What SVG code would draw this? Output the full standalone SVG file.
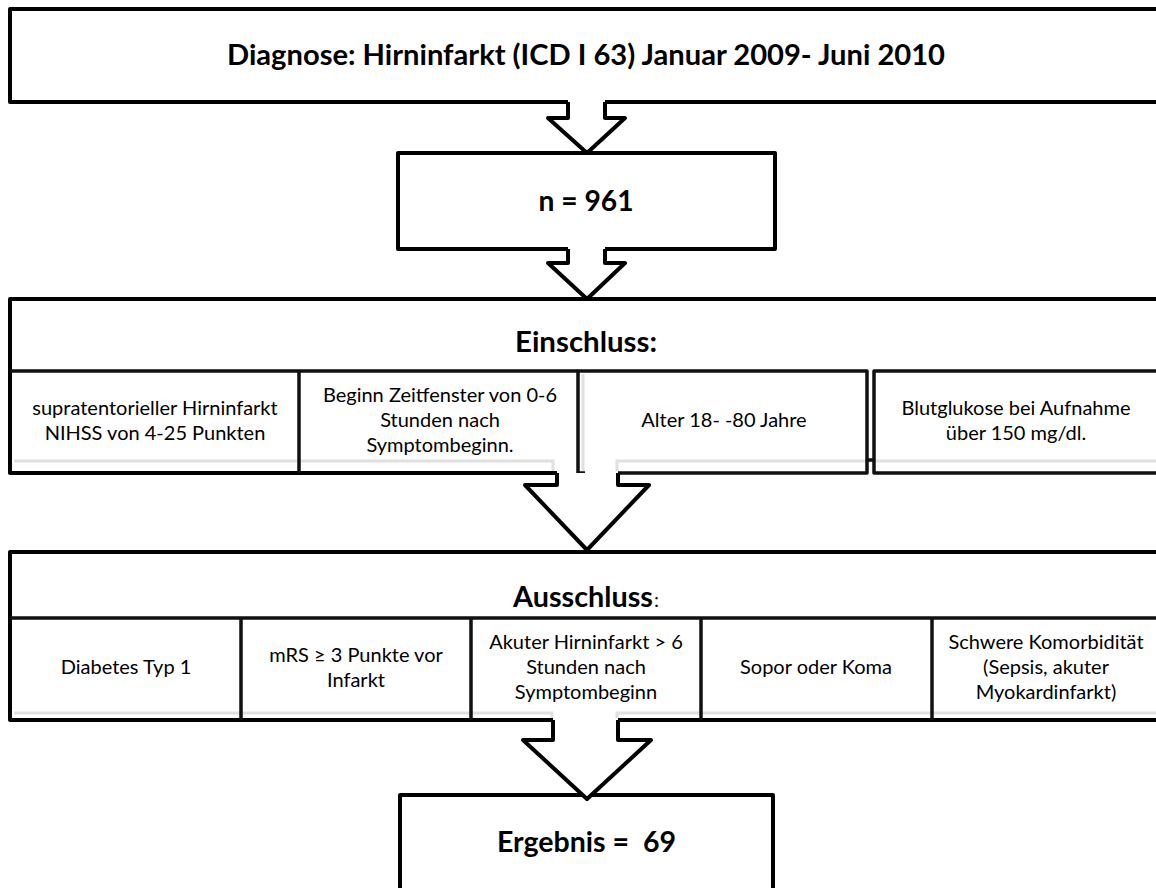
<svg xmlns="http://www.w3.org/2000/svg" width="1156" height="888" viewBox="0 0 1156 888">
<style>
.box{fill:none;stroke:#000;stroke-width:4;stroke-linejoin:round}
.cell{fill:none;stroke:#111;stroke-width:3.5;stroke-linejoin:round}
.shadow{fill:none;stroke:#e0e0e0;stroke-width:3}
.arrow{fill:#fff;stroke:#000;stroke-width:4;stroke-linejoin:round}
.h{font-family:Lato,"Liberation Sans",sans-serif;font-weight:bold;font-size:29px;fill:#000;text-anchor:middle}
.t{font-family:Lato,"Liberation Sans",sans-serif;font-size:20px;fill:#000;text-anchor:middle}
</style>
<rect width="1156" height="888" fill="#fff"/>
<g id="diagnose">
<path class="box" d="M1170,9 H10 V102 H568 M605,102 H1170"/>
<text class="h" x="586" y="65" textLength="718" lengthAdjust="spacingAndGlyphs">Diagnose: Hirninfarkt (ICD I 63) Januar 2009- Juni 2010</text>
</g>
<g id="n961">
<path class="box" d="M568,249 H398 V153 H775 V249 H605"/>
<text class="h" x="586" y="211" textLength="95" lengthAdjust="spacingAndGlyphs">n = 961</text>
</g>
<g id="einschluss">
<path class="shadow" d="M14,461 H553 V471 M617,471 V461 H1160 M583,374 V471"/>
<path class="box" d="M1170,299 H10 V473 H557"/>
<path class="cell" d="M10,371 H578 M299,371 V473"/>
<path class="cell" d="M585,371 H578 V473 H585 M578,371 H867 V473 H618"/>
<path class="cell" d="M1170,371 H874 V473 H1170 M867,460 H874"/>
<text class="h" x="586" y="352" textLength="142" lengthAdjust="spacingAndGlyphs">Einschluss:</text>
<text class="t" x="155" y="415">supratentorieller Hirninfarkt</text>
<text class="t" x="155" y="440">NIHSS von 4-25 Punkten</text>
<text class="t" x="440" y="402">Beginn Zeitfenster von 0-6</text>
<text class="t" x="440" y="427">Stunden nach</text>
<text class="t" x="440" y="452">Symptombeginn.</text>
<text class="t" x="724" y="427">Alter 18- -80 Jahre</text>
<text class="t" x="1016" y="415">Blutglukose bei Aufnahme</text>
<text class="t" x="1016" y="440">über 150 mg/dl.</text>
</g>
<g id="ausschluss">
<path class="shadow" d="M14,713 H552 V718 M617,718 V713 H1160"/>
<path class="box" d="M1170,552 H10 V720 H553 M618,720 H1170"/>
<path class="cell" d="M10,618 H1170 M241,618 V720 M471,618 V720 M701,618 V720 M932,618 V720"/>
<text class="h" x="513" y="607" style="text-anchor:start" textLength="140" lengthAdjust="spacingAndGlyphs">Ausschluss</text>
<text class="t" x="654" y="607" style="text-anchor:start">:</text>
<text class="t" x="126" y="674">Diabetes Typ 1</text>
<text class="t" x="356" y="662">mRS ≥ 3 Punkte vor</text>
<text class="t" x="356" y="687">Infarkt</text>
<text class="t" x="586" y="649">Akuter Hirninfarkt &gt; 6</text>
<text class="t" x="586" y="674">Stunden nach</text>
<text class="t" x="586" y="699">Symptombeginn</text>
<text class="t" x="816" y="674">Sopor oder Koma</text>
<text class="t" x="1046" y="649">Schwere Komorbidität</text>
<text class="t" x="1046" y="674">(Sepsis, akuter</text>
<text class="t" x="1046" y="699">Myokardinfarkt)</text>
</g>
<g id="ergebnis">
<path class="box" d="M400,900 V795 H773 V900"/>
<text class="h" x="586.5" y="852" textLength="179" lengthAdjust="spacingAndGlyphs" xml:space="preserve">Ergebnis =  69</text>
</g>
<g id="connectors">
<path class="arrow" d="M568,102 V118 H548 L587,153 L625,118 H605 V102"/>
<path class="arrow" d="M568,249 V263 H548 L587,299 L625,263 H605 V249"/>
<path class="arrow" d="M557,473 V485 H525 L587,550 L649,485 H618 V473"/>
<path class="arrow" d="M553,720 V740 H523 L587,799 L651,740 H618 V720"/>
</g>
</svg>
